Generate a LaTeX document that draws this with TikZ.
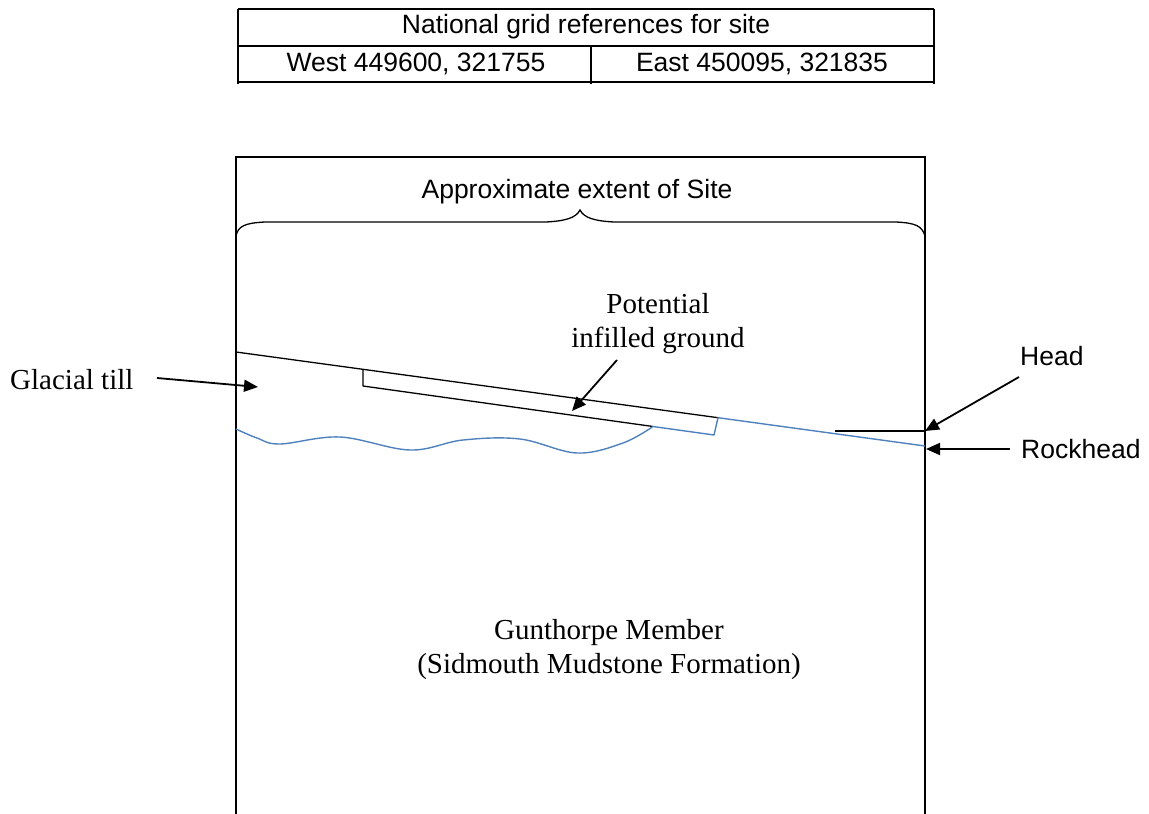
\documentclass[tikz,border=0pt]{standalone}
\usepackage{fontspec}
\setmainfont{Liberation Serif}
\newfontfamily\arialfont{Liberation Sans}
\usetikzlibrary{arrows.meta}
\definecolor{rockblue}{RGB}{79,129,189}
\begin{document}
\begin{tikzpicture}[x=1pt,y=-1pt,
  rule/.style={line width=1.3pt},
  contact/.style={line width=1.3pt,line join=round},
  rockline/.style={line width=1.4pt,rockblue,line join=round},
  pointer/.style={line width=1.8pt,-{Triangle[length=14pt,width=12pt]}},
  sanslabel/.style={font=\arialfont\fontsize{26.5}{30}\selectfont,inner sep=0pt},
  seriflabel/.style={font=\fontsize{29}{34}\selectfont,inner sep=0pt,align=center},
]
\useasboundingbox (0,0) rectangle (1149,814);

% grid reference table
\draw[rule] (238,9) -- (934,9);
\draw[rule] (238,46) -- (934,46);
\draw[rule] (238,82) -- (934,82);
\draw[rule] (238,9) -- (238,84);
\draw[rule] (934,9) -- (934,84);
\draw[rule] (591,46) -- (591,84);
\node[sanslabel] (gridtitle) at (586,27) {National grid references for site};
\node[sanslabel] (west) at (416,64) {West 449600, 321755};
\node[sanslabel] (east) at (762,64) {East 450095, 321835};

% section frame
\draw[rule] (236,814) -- (236,157) -- (925,157) -- (925,814);

% brace showing the site extent
\node[sanslabel] (extent) at (577,192) {Approximate extent of Site};
\draw[rule] (236,236) .. controls (238,226) and (245,223) .. (265,222)
  -- (546,222) .. controls (565,221) and (576,218) .. (580,210)
  .. controls (584,218) and (595,221) .. (614,222)
  -- (896,222) .. controls (916,223) and (922,226) .. (925,236);

% ground surface / head contact and infilled ground
\coordinate (surfW) at (236,352);
\coordinate (boxTL) at (363,369.3);
\coordinate (boxBL) at (363,386);
\coordinate (boxJoin) at (653,426.5);
\coordinate (boxBR) at (714,435);
\coordinate (boxTR) at (718,417.7);
\coordinate (surfE) at (925,446);
\draw[contact] (surfW) -- (boxTR);
\draw[contact] (boxTL) -- (boxBL) -- (boxJoin);

% rockhead
\draw[rockline] plot[smooth,tension=0.6] coordinates {
  (236,429) (257,438) (280,444) (340,437) (410,450) (463,440)
  (520,439) (577,453) (623,443) (653,426.5)};
\draw[rockline] (boxJoin) -- (boxBR) -- (boxTR) -- (surfE);

% head base line
\coordinate (headW) at (835,431);
\coordinate (headE) at (925,431);
\draw[contact] (headW) -- (headE);

% labels and pointers
\node[seriflabel,anchor=west] (till) at (10,380) {Glacial till};
\coordinate (tillS) at (157,378);
\coordinate (tillT) at (258,387);
\draw[pointer] (tillS) -- (tillT);

\node[seriflabel] (infill) at (658,324) {Potential\\infilled ground};
\coordinate (infillS) at (617,360);
\coordinate (infillT) at (572,411);
\draw[pointer] (infillS) -- (infillT);

\node[sanslabel,anchor=west] (head) at (1020,356) {Head};
\coordinate (headS) at (1019,377);
\draw[pointer] (headS) -- (headE);

\node[sanslabel,anchor=west] (rock) at (1021,449) {Rockhead};
\coordinate (rockS) at (1010,449);
\coordinate (rockT) at (926,449);
\draw[pointer] (rockS) -- (rockT);

\node[seriflabel] (unit) at (609,650) {Gunthorpe Member\\(Sidmouth Mudstone Formation)};
\end{tikzpicture}
\end{document}
